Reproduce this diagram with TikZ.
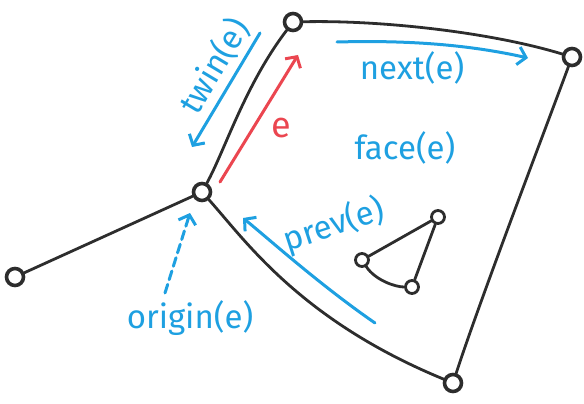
\documentclass[tikz,border=0pt]{standalone}
\usepackage{fontspec}
\setmainfont{Fira Sans}
\usetikzlibrary{arrows.meta}
\definecolor{inkblue}{RGB}{30,160,225}
\definecolor{inkred}{RGB}{235,70,80}
\definecolor{ink}{RGB}{45,45,45}
\tikzset{
  vtx/.style={circle,draw=ink,line width=3.6pt,fill=white,minimum size=17pt,inner sep=0pt},
  smallvtx/.style={circle,draw=ink,line width=2.8pt,fill=white,minimum size=13pt,inner sep=0pt},
  edge/.style={draw=ink,line width=2.8pt,line cap=round},
  barb/.style={-{Straight Barb[length=8pt,width=18pt,line width=3pt]}},
  bluearrow/.style={draw=inkblue,line width=3pt,line cap=round,barb},
  redarrow/.style={draw=inkred,line width=3pt,line cap=round,barb},
  bluetext/.style={text=inkblue,font=\fontsize{33}{35}\selectfont,inner sep=0pt},
  redtext/.style={text=inkred,font=\fontsize{36}{38}\selectfont,inner sep=0pt}
}
\begin{document}
\begin{tikzpicture}[x=1pt,y=-1pt]
\useasboundingbox (0,0) rectangle (584,404);
% vertices
\node[vtx] (T) at (293,22) {};
\node[vtx] (R) at (572,57) {};
\node[vtx] (L) at (202,192) {};
\node[vtx] (F) at (15,277) {};
\node[vtx] (B) at (453,383) {};
\node[smallvtx] (t1) at (438,217) {};
\node[smallvtx] (t2) at (362,260) {};
\node[smallvtx] (t3) at (412,287) {};
% edges
\draw[edge] (L) .. controls (225,150) and (245,85) .. (T);
\draw[edge] (T) .. controls (380,20) and (490,32) .. (R);
\draw[edge] (R) .. controls (545,130) and (480,300) .. (B);
\draw[edge] (L) .. controls (245,240) and (300,320) .. (B);
\draw[edge] (F) -- (L);
\draw[edge] (t2) -- (t1);
\draw[edge] (t1) -- (t3);
\draw[edge] (t2) .. controls (375,280) and (395,287) .. (t3);
% arrow end points
\coordinate (twinS) at (260,33);
\coordinate (twinE) at (192,147);
\coordinate (eS) at (220,182);
\coordinate (eE) at (298,55);
\coordinate (nextS) at (337,42);
\coordinate (nextE) at (528,58);
\coordinate (prevS) at (375,323);
\coordinate (prevE) at (243,218);
\coordinate (origS) at (165,293);
\coordinate (origE) at (190,213);
% arrows
\draw[bluearrow] (twinS) -- (twinE);
\draw[redarrow] (eS) -- (eE);
\draw[bluearrow] (nextS) .. controls (410,40) and (470,45) .. (nextE);
\draw[bluearrow] (prevS) .. controls (320,285) and (270,240) .. (prevE);
\draw[bluearrow,dashed,dash pattern=on 9pt off 5pt] (origS) -- (origE);
% labels
\node[bluetext,rotate=59] (twinL) at (214,66) {twin(e)};
\node[redtext] (eL) at (281,128) {e};
\node[bluetext] (nextL) at (412,68) {next(e)};
\node[bluetext] (faceL) at (405,148) {face(e)};
\node[bluetext,rotate=18] (prevL) at (334,225) {prev(e)};
\node[bluetext] (origL) at (190,318) {origin(e)};
\end{tikzpicture}
\end{document}
